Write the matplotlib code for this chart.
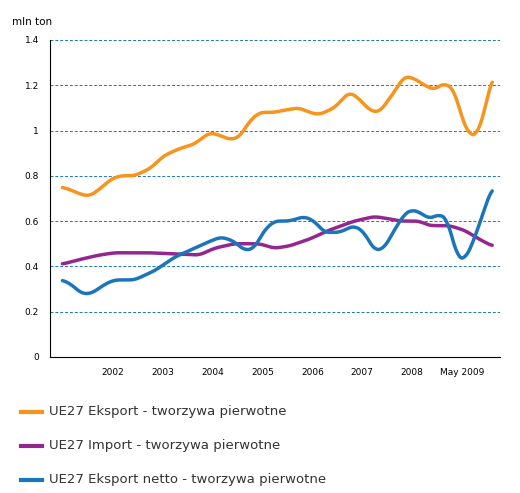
import matplotlib.pyplot as plt
import numpy as np

# x positions read as years, y in mln ton
exp_x = [2001.0, 2001.14, 2001.34, 2001.54, 2001.74, 2001.94, 2002.14, 2002.44, 2002.74, 2003.04, 2003.34,
         2003.64, 2003.94, 2004.14, 2004.34, 2004.54, 2004.74, 2004.94, 2005.24, 2005.44, 2005.74, 2005.94,
         2006.14, 2006.44, 2006.74, 2006.94, 2007.14, 2007.34, 2007.64, 2007.84, 2008.04, 2008.24, 2008.44,
         2008.64, 2008.84, 2009.0, 2009.14, 2009.3, 2009.44, 2009.6]
exp_y = [0.75, 0.74, 0.72, 0.71, 0.74, 0.78, 0.80, 0.80, 0.83, 0.89, 0.92, 0.94, 0.99, 0.98, 0.96, 0.97,
         1.04, 1.08, 1.08, 1.09, 1.10, 1.08, 1.07, 1.10, 1.17, 1.14, 1.09, 1.08, 1.17, 1.24, 1.23, 1.20,
         1.18, 1.21, 1.18, 1.05, 0.98, 0.98, 1.08, 1.24]
imp_x = [2001.0, 2001.34, 2001.74, 2002.04, 2002.74, 2003.74, 2004.04, 2004.44, 2004.94, 2005.24, 2005.54,
         2005.94, 2006.34, 2006.84, 2007.24, 2007.54, 2007.74, 2008.14, 2008.34, 2008.74, 2009.04, 2009.34, 2009.6]
imp_y = [0.41, 0.43, 0.45, 0.46, 0.46, 0.45, 0.48, 0.50, 0.50, 0.48, 0.49, 0.52, 0.56, 0.60, 0.62, 0.61,
         0.60, 0.60, 0.58, 0.58, 0.56, 0.52, 0.49]
net_x = [2001.0, 2001.18, 2001.38, 2001.58, 2001.84, 2002.04, 2002.44, 2002.84, 2003.24, 2003.54, 2003.94,
         2004.18, 2004.44, 2004.64, 2004.84, 2005.04, 2005.24, 2005.54, 2005.84, 2006.04, 2006.24, 2006.54,
         2006.84, 2007.04, 2007.24, 2007.44, 2007.64, 2007.84, 2007.98, 2008.14, 2008.34, 2008.54, 2008.7,
         2008.9, 2009.06, 2009.24, 2009.44, 2009.6]
net_y = [0.34, 0.32, 0.28, 0.28, 0.32, 0.34, 0.34, 0.38, 0.44, 0.47, 0.51, 0.53, 0.51, 0.47, 0.48, 0.56,
         0.60, 0.60, 0.62, 0.60, 0.55, 0.55, 0.58, 0.55, 0.47, 0.48, 0.56, 0.63, 0.65, 0.64, 0.61, 0.63,
         0.61, 0.44, 0.43, 0.52, 0.65, 0.75]

tick_pos = [2002, 2003, 2004, 2005, 2006, 2007, 2008, 2009]
tick_lab = ['2002', '2003', '2004', '2005', '2006', '2007', '2008', 'May 2009']
y_ticks = [0, 0.2, 0.4, 0.6, 0.8, 1.0, 1.2, 1.4]
y_labs = ['0', '0.2', '0.4', '0.6', '0.8', '1', '1.2', '1.4']

names = ['UE27 Eksport - tworzywa pierwotne', 'UE27 Import - tworzywa pierwotne',
         'UE27 Eksport netto - tworzywa pierwotne']
colors = ['#f7941d', '#93278f', '#1b75bb']


def smooth(x, y, n=600, w=15):
    # draw the read points as a rounded curve
    xs = np.linspace(x[0], x[-1], n)
    ys = np.interp(xs, x, y)
    pad = np.concatenate([np.full(w, ys[0]), ys, np.full(w, ys[-1])])
    k = np.ones(w) / w
    ys = np.convolve(pad, k, mode='same')[w:-w]
    return xs, ys


fig = plt.figure(figsize=(5.2, 4.93), dpi=100)
ax = fig.add_axes([0.096, 0.276, 0.865, 0.643])

for (x, y), c in zip([(exp_x, exp_y), (imp_x, imp_y), (net_x, net_y)], colors):
    xs, ys = smooth(x, y)
    ax.plot(xs, ys, color=c, lw=2.5, solid_capstyle='round')

ax.set_xlim(2000.75, 2009.75)
ax.set_ylim(0, 1.4)
ax.set_yticks(y_ticks)
ax.set_yticklabels(y_labs, fontsize=6.5)
ax.set_xticks(tick_pos)
ax.set_xticklabels(tick_lab, fontsize=6.5)
ax.tick_params(length=0, pad=8)
for v in y_ticks[1:]:
    ax.axhline(v, color='#1b75bb', ls=(0, (3, 2)), lw=0.7, zorder=0)
for s in ['top', 'right']:
    ax.spines[s].set_visible(False)
ax.spines['left'].set_linewidth(0.8)
ax.spines['bottom'].set_linewidth(0.8)

fig.text(0.023, 0.955, 'mln ton', fontsize=7.5, va='center')

for i, (n, c) in enumerate(zip(names, colors)):
    yy = 1 - (412 + i * 34) / 493
    fig.add_artist(plt.Line2D([0.04, 0.08], [yy, yy], color=c, lw=3))
    fig.text(0.095, yy, n, fontsize=9.5, va='center', color='#333333')

fig.savefig('out.png', dpi=100)
